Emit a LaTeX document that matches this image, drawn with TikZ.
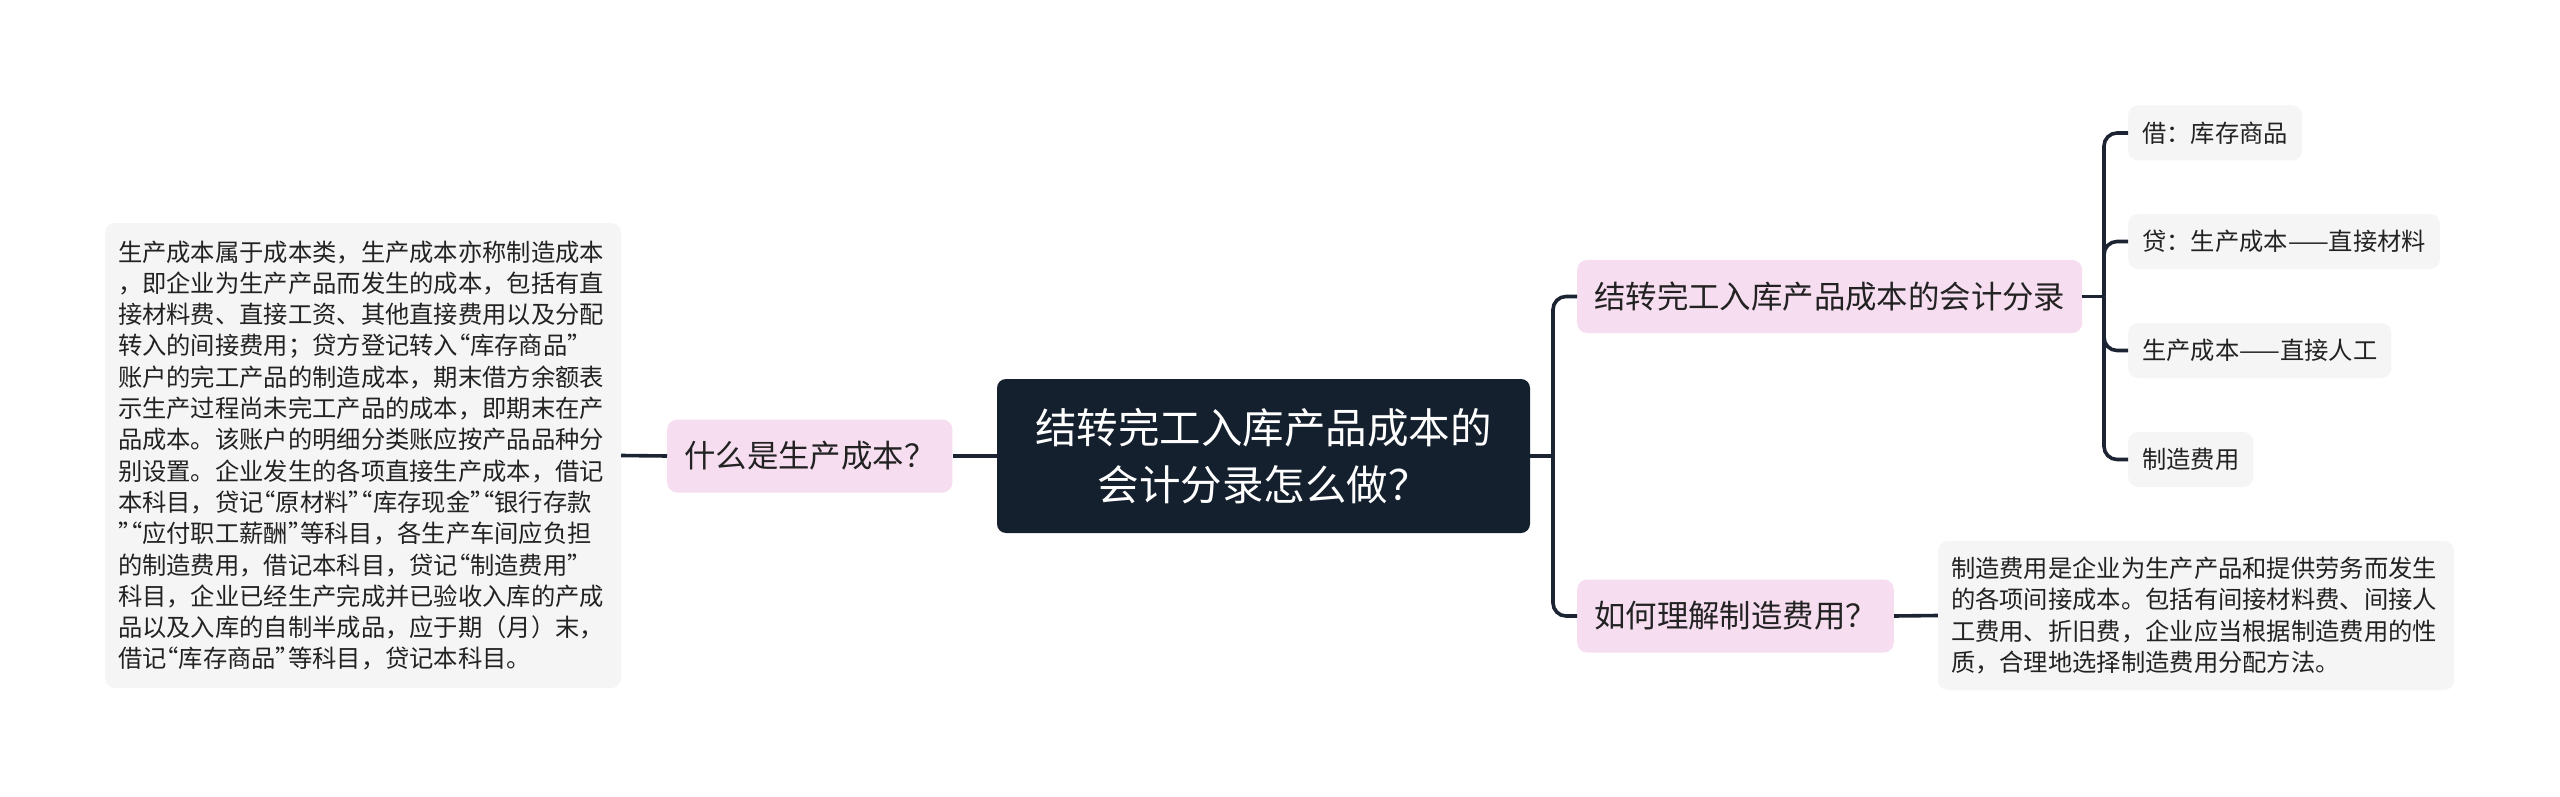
\documentclass[tikz,border=0pt]{standalone}
\usepackage{fontspec}
\setmainfont{Noto Sans CJK SC}
\definecolor{pinkbg}{RGB}{246,221,240}
\definecolor{graybg}{RGB}{245,245,245}
\definecolor{rootbg}{RGB}{21,32,46}
\definecolor{linec}{RGB}{28,36,51}
\definecolor{txt}{RGB}{34,34,34}
\newcommand\oqt{\makebox[0.5em][r]{“}}
\newcommand\cqt{\makebox[0.5em][l]{”}}
\tikzset{
  conn/.style={draw=linec, line width=3.6pt, rounded corners=13pt},
  rootbox/.style={fill=rootbg, text=white, rounded corners=9pt, align=center,
    minimum width=533pt, minimum height=154pt, inner sep=0pt,
    font=\fontsize{41.5}{57}\selectfont},
  pinkbox/.style={fill=pinkbg, text=txt, rounded corners=10pt, minimum height=73pt,
    inner xsep=17pt, inner ysep=0pt, font=\fontsize{31.4}{36}\selectfont},
  leafbox/.style={fill=graybg, text=txt, rounded corners=10pt, minimum height=55pt,
    inner xsep=14pt, inner ysep=0pt, font=\fontsize{24.3}{30}\selectfont},
  textbox/.style={fill=graybg, text=txt, rounded corners=10pt, align=left,
    text width=490pt, inner xsep=13pt, inner ysep=0pt,
    font=\fontsize{24.3}{31.3}\selectfont}
}
\begin{document}
\begin{tikzpicture}[x=1pt,y=-1pt]
\useasboundingbox[fill=white] (0,0) rectangle (2560,797);

% root
\node[rootbox] (root) at (1263.5,456) {结转完工入库产品成本的\\会计分录怎么做？};

% left branch
\node[pinkbox, anchor=west] (q1) at (667,456) {什么是生产成本？};
\node[textbox, minimum height=465pt] (t1) at (363,455.5) {生产成本属于成本类，生产成本亦称制造成本\\，即企业为生产产品而发生的成本，包括有直\\接材料费、直接工资、其他直接费用以及分配\\转入的间接费用；贷方登记转入\oqt 库存商品\cqt\\账户的完工产品的制造成本，期末借方余额表\\示生产过程尚未完工产品的成本，即期末在产\\品成本。该账户的明细分类账应按产品品种分\\别设置。企业发生的各项直接生产成本，借记\\本科目，贷记\oqt 原材料\cqt\oqt 库存现金\cqt\oqt 银行存款\\\cqt\oqt 应付职工薪酬\cqt 等科目，各生产车间应负担\\的制造费用，借记本科目，贷记\oqt 制造费用\cqt\\科目，企业已经生产完成并已验收入库的产成\\品以及入库的自制半成品，应于期（月）末，\\借记\oqt 库存商品\cqt 等科目，贷记本科目。};

% right branches
\node[pinkbox, anchor=west] (q2) at (1577,296.5) {结转完工入库产品成本的会计分录};
\node[pinkbox, anchor=west] (q3) at (1577,616) {如何理解制造费用？};

\node[leafbox, anchor=west] (l1) at (2128,133) {借：库存商品};
\node[leafbox, anchor=west] (l2) at (2128,241.5) {贷：生产成本——直接材料};
\node[leafbox, anchor=west] (l3) at (2128,350.5) {生产成本——直接人工};
\node[leafbox, anchor=west] (l4) at (2128,459.5) {制造费用};

\node[textbox, minimum height=149pt] (t3) at (2196,615.5) {制造费用是企业为生产产品和提供劳务而发生\\的各项间接成本。包括有间接材料费、间接人\\工费用、折旧费，企业应当根据制造费用的性\\质，合理地选择制造费用分配方法。};

% junctions
\coordinate (j1) at (1553,456);
\coordinate (j2) at (2104,296.5);

% connectors
\draw[conn] (t1.east) -- (q1.west);
\draw[conn] (q1.east) -- (root.west);
\draw[conn] (root.east) -- (j1);
\draw[conn] (j1) |- (q2.west);
\draw[conn] (j1) |- (q3.west);
\draw[conn] (q2.east) -- (j2);
\draw[conn] (j2) |- (l1.west);
\draw[conn] (j2) |- (l2.west);
\draw[conn] (j2) |- (l3.west);
\draw[conn] (j2) |- (l4.west);
\draw[conn] (q3.east) -- (t3.west);
\end{tikzpicture}
\end{document}
